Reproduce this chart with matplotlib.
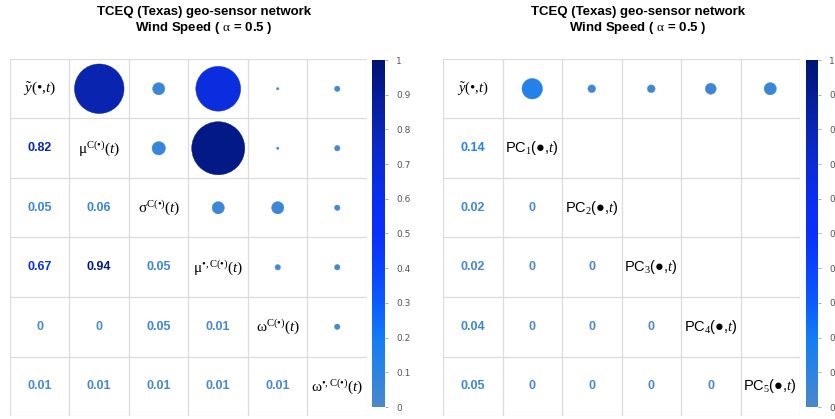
import numpy as np
import matplotlib
matplotlib.use("Agg")
import matplotlib.pyplot as plt
from matplotlib.colors import LinearSegmentedColormap
from matplotlib.patches import Circle

plt.rcParams['mathtext.fontset'] = 'custom'
plt.rcParams['mathtext.rm'] = 'Liberation Serif'
plt.rcParams['mathtext.it'] = 'Liberation Serif:italic'
plt.rcParams['mathtext.bf'] = 'Liberation Serif:bold'

title_lines = ["TCEQ (Texas) geo-sensor network", r"Wind Speed ( $\mathrm{α}$ = 0.5 )"]

# left panel: response vs. spatial features
left_labels = [r"$\tilde{y}$(•,$t$)",
               r"μ$^{\mathrm{C(•)}}$($t$)",
               r"σ$^{\mathrm{C(•)}}$($t$)",
               r"μ$^{\mathrm{•,C(•)}}$($t$)",
               r"ω$^{\mathrm{C(•)}}$($t$)",
               r"ω$^{\mathrm{•,C(•)}}$($t$)"]
left_vals = np.array([
    [1.00, 0.82, 0.05, 0.67, 0.002, 0.01],
    [0.82, 1.00, 0.06, 0.94, 0.002, 0.01],
    [0.05, 0.06, 1.00, 0.05, 0.05, 0.01],
    [0.67, 0.94, 0.05, 1.00, 0.01, 0.01],
    [0.002, 0.002, 0.05, 0.01, 1.00, 0.01],
    [0.01, 0.01, 0.01, 0.01, 0.01, 1.00],
])

# right panel: response vs. principal components
right_labels = [r"$\tilde{y}$(•,$t$)"] + ["PC$_{%d}$(●,$t$)" % k for k in range(1, 6)]
right_vals = np.array([
    [1.00, 0.14, 0.02, 0.02, 0.04, 0.05],
    [0.14, 1.00, 0.00, 0.00, 0.00, 0.00],
    [0.02, 0.00, 1.00, 0.00, 0.00, 0.00],
    [0.02, 0.00, 0.00, 1.00, 0.00, 0.00],
    [0.04, 0.00, 0.00, 0.00, 1.00, 0.00],
    [0.05, 0.00, 0.00, 0.00, 0.00, 1.00],
])

cmap = LinearSegmentedColormap.from_list("corr_blue", [
    (0.0, "#4a88cc"), (0.1, "#2c84e2"), (0.2, "#137cf6"), (0.3, "#0a5cff"),
    (0.4, "#0a44ff"), (0.5, "#0a30fc"), (0.6, "#0a2ef0"), (0.7, "#0a2cd6"),
    (0.8, "#0a26b4"), (0.9, "#051d96"), (1.0, "#001470")])

W, H = 835, 419
fig = plt.figure(figsize=(W / 100, H / 100), dpi=100)


def px(x0, y0, w, h):
    return [x0 / W, 1 - (y0 + h) / H, w / W, h / H]


def corr_panel(ax, vals, labels, label_kw):
    n = len(labels)
    ax.set_xlim(0, n)
    ax.set_ylim(n, 0)
    ax.axis("off")
    for k in range(n + 1):
        ax.plot([0, n], [k, k], color="#dcdcdc", lw=0.9, zorder=1)
        ax.plot([k, k], [0, n], color="#dcdcdc", lw=0.9, zorder=1)
    for i in range(n):
        for j in range(n):
            v = vals[i, j]
            if i == j:
                ax.text(j + 0.5, i + 0.5, labels[i], ha="center", va="center", **label_kw)
            elif j > i:
                r = 0.46 * np.sqrt(abs(v))
                if r == 0:
                    continue
                ax.add_patch(Circle((j + 0.5, i + 0.5), r, fc=cmap(abs(v)),
                                    ec=cmap(abs(v)), lw=0.3, zorder=2))
            else:
                txt = "%g" % round(v, 2)
                ax.text(j + 0.5, i + 0.5, txt, ha="center", va="center",
                        fontsize=9, fontweight="bold", family="Liberation Sans",
                        color=cmap(abs(v)))


def colorbar(ax):
    grad = np.linspace(0, 1, 256).reshape(-1, 1)
    ax.imshow(grad, aspect="auto", cmap=cmap, origin="lower", extent=[0, 1, 0, 1])
    ax.set_xticks([])
    ax.yaxis.tick_right()
    ticks = np.round(np.arange(0, 1.01, 0.1), 1)
    ax.set_yticks(ticks)
    ax.set_yticklabels(["%g" % t for t in ticks])
    ax.tick_params(axis="y", length=2, width=0.5, colors="#888888", labelsize=6.5,
                   labelcolor="#555555", pad=6)
    for s in ax.spines.values():
        s.set_visible(False)


left_kw = dict(fontsize=11, family=["Liberation Serif", "DejaVu Serif"])
right_kw = dict(fontsize=10.5, family=["Liberation Sans", "DejaVu Sans"])

ax1 = fig.add_axes(px(10, 59, 357, 357))
corr_panel(ax1, left_vals, left_labels, left_kw)
ax2 = fig.add_axes(px(443, 59, 357, 357))
corr_panel(ax2, right_vals, right_labels, right_kw)
ax2.texts[0].set_family(["Liberation Serif", "DejaVu Serif"])

cb1 = fig.add_axes(px(372, 60, 13, 347))
colorbar(cb1)
cb2 = fig.add_axes(px(806, 60, 12, 347))
colorbar(cb2)

for cx in (204, 638):
    for k, line in enumerate(title_lines):
        fig.text(cx / W, 1 - (12 + 15.5 * k) / H, line, ha="center", va="center",
                 fontsize=9.5, fontweight="bold", family="Liberation Sans")

fig.savefig("out.png", dpi=100)
